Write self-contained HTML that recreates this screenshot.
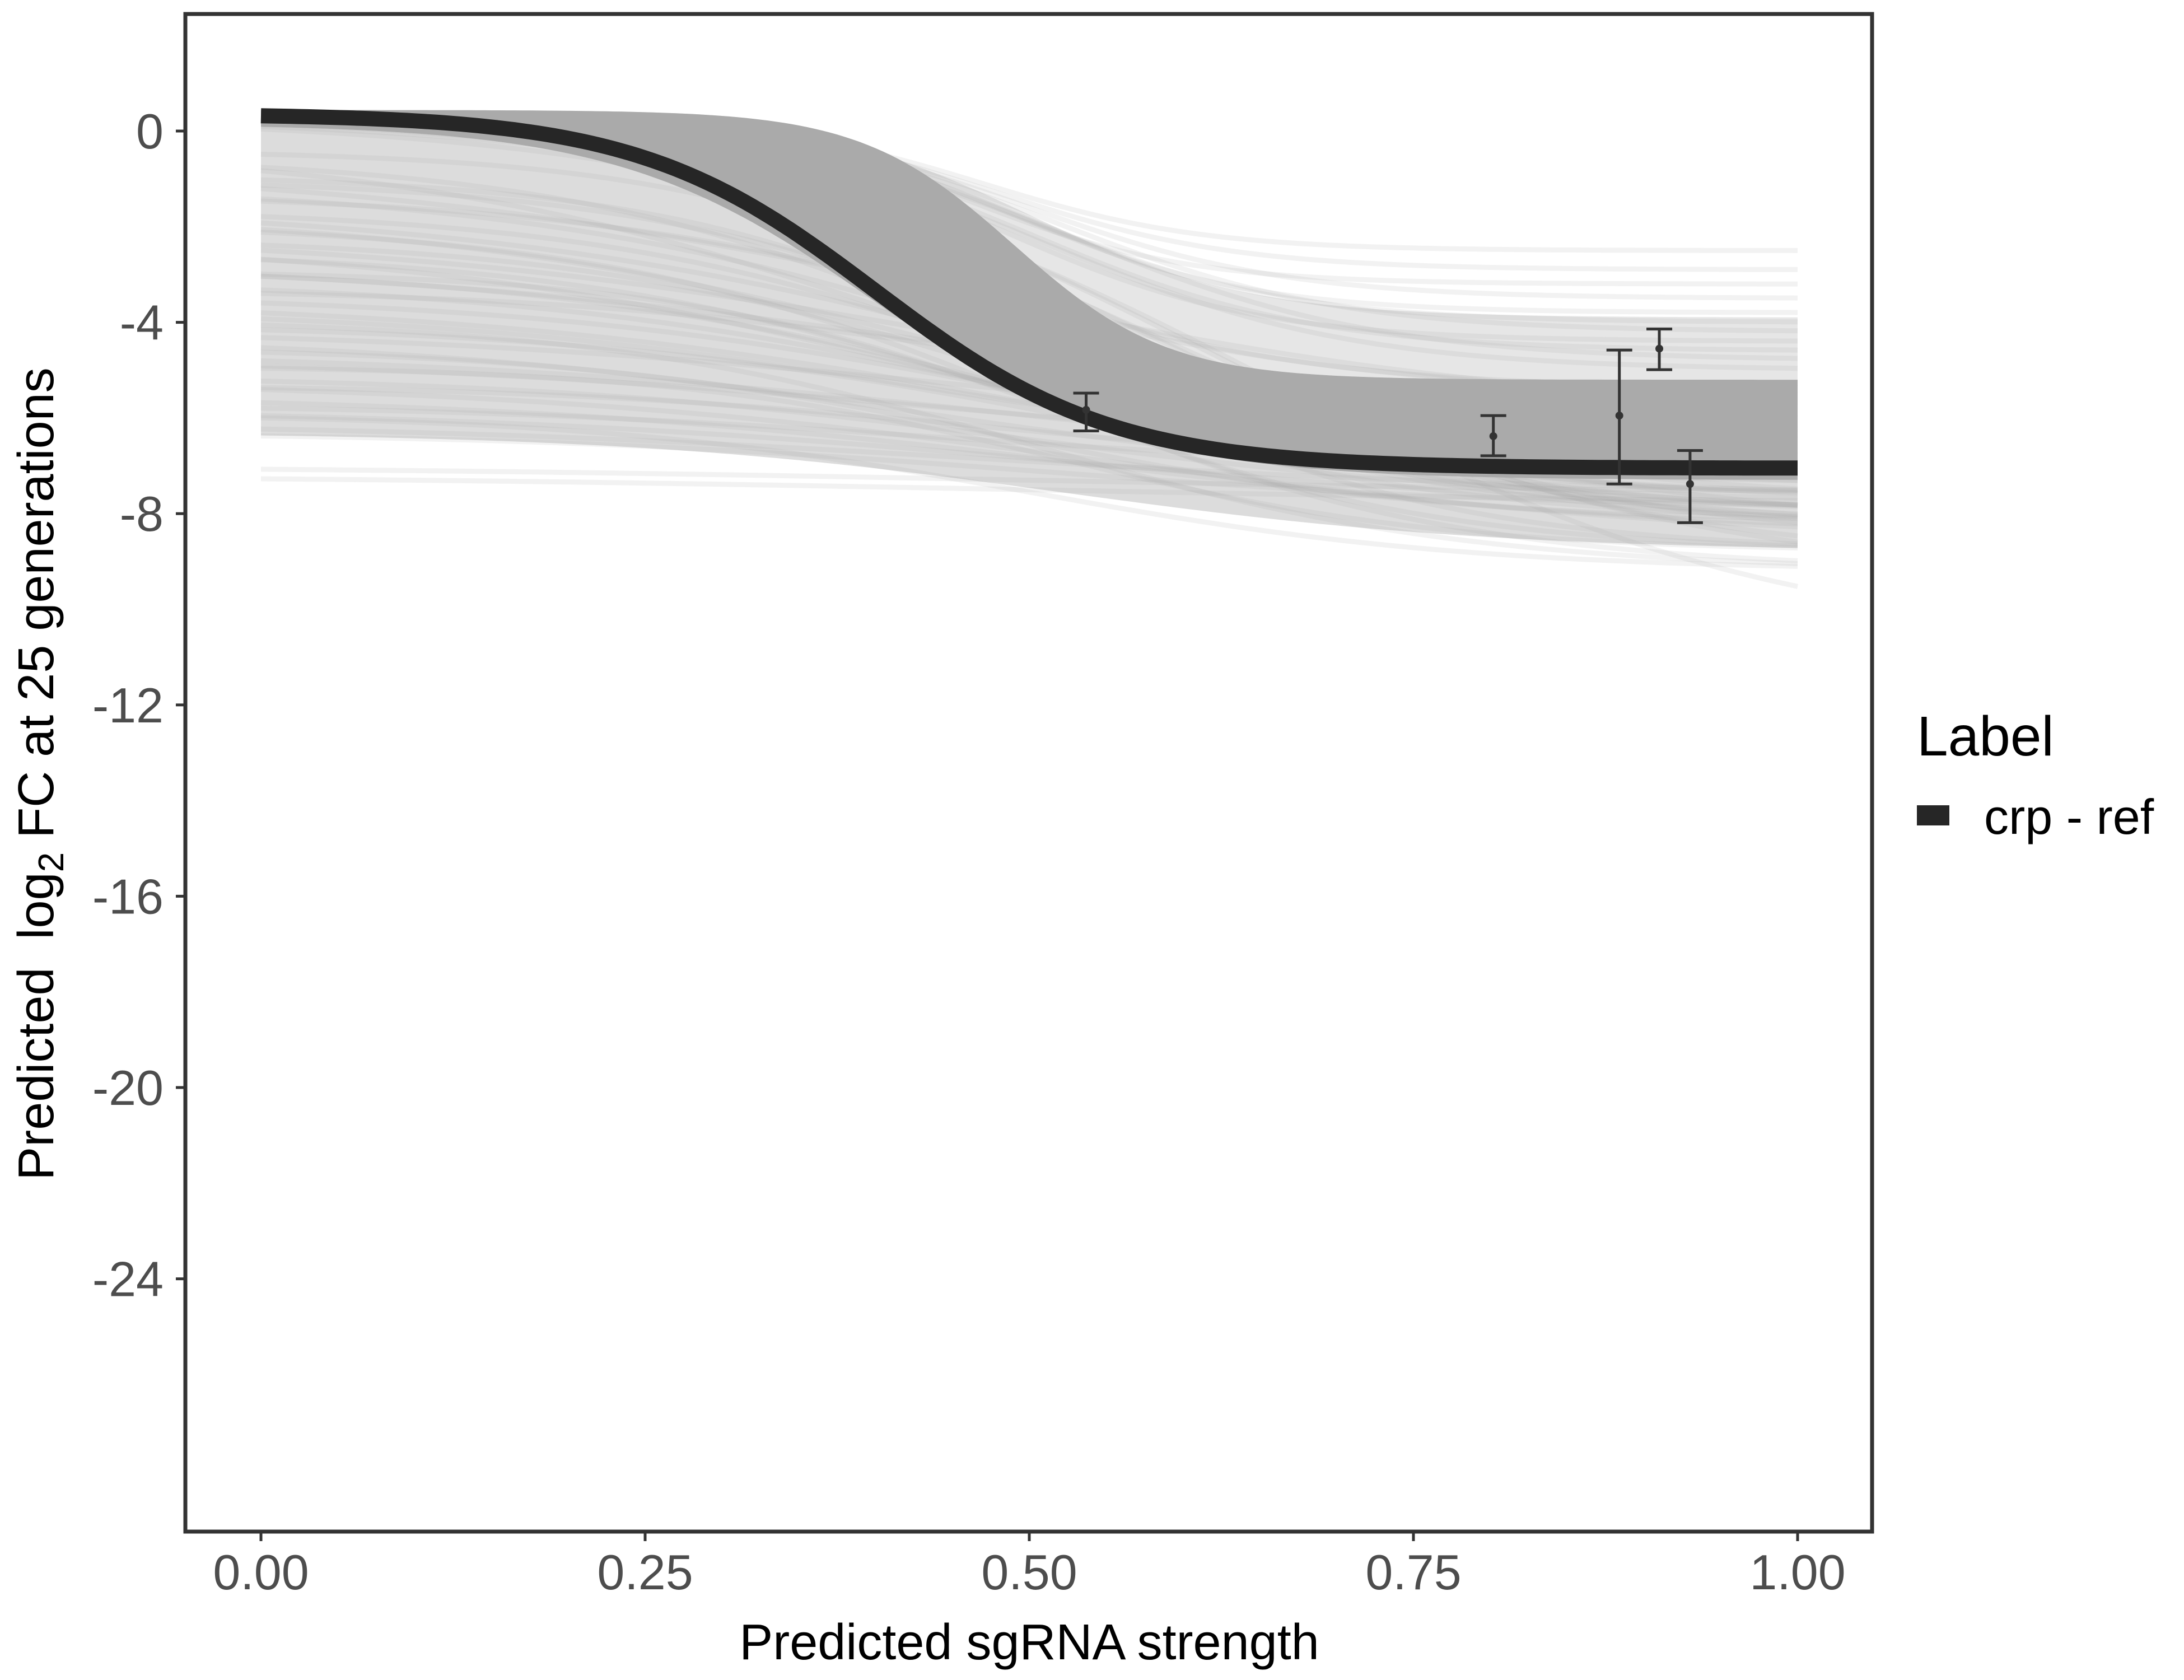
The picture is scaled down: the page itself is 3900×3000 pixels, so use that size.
<!DOCTYPE html>
<html><head><meta charset="utf-8">
<style>
html,body{margin:0;padding:0;background:#fff;}
svg{display:block;font-family:"Liberation Sans",Arial,sans-serif;}
</style></head>
<body>
<svg id="chart" width="3900" height="3000" viewBox="0 0 3900 3000" xmlns="http://www.w3.org/2000/svg">
  <rect x="0" y="0" width="3900" height="3000" fill="#fff"/>
  <g id="plot"></g>
  <rect x="331" y="25" width="3012" height="2710" fill="none" stroke="#333" stroke-width="7"/>
  <g id="axes"></g>
  <text x="1838" y="2963" font-size="90" text-anchor="middle" fill="#000">Predicted sgRNA strength</text>
  <text transform="translate(95,1382) rotate(-90)" font-size="90" text-anchor="middle" fill="#000" xml:space="preserve">Predicted  log<tspan font-size="64" dy="18">2</tspan><tspan dy="-18"> FC at 25 generations</tspan></text>
  <text x="3423" y="1349" font-size="100" fill="#000">Label</text>
  <rect x="3423" y="1438" width="58" height="36" fill="#262626"/>
  <text x="3543" y="1489" font-size="88" fill="#000">crp - ref</text>
</svg>
<script>
// axis ticks
const xTicks = [0, 0.25, 0.5, 0.75, 1];
const xTickLabels = ["0.00", "0.25", "0.50", "0.75", "1.00"];
const yTicks = [0, -4, -8, -12, -16, -20, -24];
const yTickLabels = ["0", "-4", "-8", "-12", "-16", "-20", "-24"];
// main fitted curve (crp - ref): sigmoid parameters
const mainTop = [0.36];
const mainBottom = [-7.05];
const mainMid = [0.40];
const mainSlope = [13];
// dense posterior band envelope (upper, lower)
const bandTop = [0.44, 0.15];
const bandBottom = [-5.2, -7.3];
const bandMid = [0.49, 0.40];
const bandSlope = [20, 12];
// lighter density regions: [upperEdge, lowerEdge]
const lowRegionTop = [0.15, -6.3];
const lowRegionBottom = [-7.3, -8.8];
const lowRegionMid = [0.40, 0.52];
const lowRegionSlope = [12, 7];
const fanTop = [0.4, 0.44];
const fanBottom = [-3.9, -5.2];
const fanMid = [0.5, 0.49];
const fanSlope = [14, 20];
// individual posterior draws (light lines)
const drawTop = [0.3,0.3,0.3,0.3,0.3,0.3,0.3,0.3,0.3,0.3,0.3,0.3,0.3,0.3,0.3,0.3,0.3,0.3,
  -0.3,-0.5,-0.7,-0.9,-1.1,-1.3,-1.5,-1.7,-1.9,-2.1,-2.3,-2.5,-2.7,-2.9,-3.1,-3.3,-3.5,-3.7,-3.9,-4.1,-4.3,-4.5,-4.7,-4.9,-5.1,-5.3,-5.5,-5.7,-5.9,-6.1,-6.3,
  -0.4,-1.0,-1.6,-2.2,-2.8,-3.4,-4.0,-4.6,-5.2,-5.8,-7.0,-7.2];
const drawBottom = [-2.5,-2.9,-3.2,-3.5,-3.8,-4.0,-4.2,-4.4,-4.6,-4.8,-5.0,-7.6,-8.0,-8.3,-8.6,-9.0,-9.4,-10.8,
  -7.4,-8.2,-6.0,-8.8,-7.8,-5.6,-8.5,-7.1,-9.2,-6.6,-7.4,-8.2,-6.2,-8.8,-7.8,-5.8,-8.5,-7.1,-9.2,-6.6,-7.4,-8.2,-6.9,-8.8,-7.8,-7.0,-8.5,-7.1,-9.2,-7.6,-7.9,
  -5.4,-6.3,-8.0,-7.7,-8.4,-7.5,-8.1,-7.3,-8.6,-8.0,-7.6,-7.8];
const drawMid = [0.47,0.48,0.46,0.5,0.49,0.5,0.52,0.48,0.5,0.53,0.51,0.5,0.52,0.55,0.57,0.6,0.6,0.66,
  0.42,0.48,0.45,0.52,0.5,0.46,0.55,0.44,0.5,0.47,0.42,0.48,0.45,0.52,0.5,0.46,0.55,0.44,0.5,0.47,0.42,0.48,0.45,0.52,0.5,0.46,0.55,0.44,0.5,0.47,0.5,
  0.45,0.46,0.5,0.48,0.52,0.5,0.54,0.5,0.55,0.52,0.5,0.5];
const drawSlope = [14,13,14,12,13,12,11,12,11,10,10,9,8,8,7,7,6,6,
  6,7,5,8,6,7,5,6,7,5,6,7,5,8,6,7,5,6,7,5,6,7,5,8,6,7,5,6,7,5,6,
  9,8,7,7,6,6,6,5,5,5,4,4];
// observed points with error bars
const ptX = [0.537, 0.802, 0.884, 0.910, 0.930];
const ptY = [-5.83, -6.38, -5.95, -4.55, -7.38];
const ptLo = [-6.27, -6.79, -7.38, -4.99, -8.19];
const ptHi = [-5.48, -5.95, -4.58, -4.14, -6.68];

const NS = "http://www.w3.org/2000/svg";
const X0 = 466, X1 = 3210, Y0 = 234, YPU = 85.4;
const sx = v => X0 + (X1 - X0) * v;
const sy = v => Y0 - v * YPU;
const sig = (t, b, m, k, x) => t + (b - t) / (1 + Math.exp(-k * (x - m)));
const plot = document.getElementById('plot');
const axes = document.getElementById('axes');
function mk(tag, attrs, parent) {
  const e = document.createElementNS(NS, tag);
  for (const k in attrs) e.setAttribute(k, attrs[k]);
  parent.appendChild(e);
  return e;
}
function curvePts(t, b, m, k) {
  const p = [];
  for (let i = 0; i <= 200; i++) { const x = i / 200; p.push(sx(x).toFixed(1) + ',' + sy(sig(t, b, m, k, x)).toFixed(1)); }
  return p;
}
function region(T, B, M, K, fill) {
  const up = curvePts(T[0], B[0], M[0], K[0]);
  const lo = curvePts(T[1], B[1], M[1], K[1]).reverse();
  return mk('polygon', {points: up.concat(lo).join(' '), fill: fill}, plot);
}
const r1 = region(lowRegionTop, lowRegionBottom, lowRegionMid, lowRegionSlope, '#dcdcdc');


const r2 = region(fanTop, fanBottom, fanMid, fanSlope, '#e6e6e6');


// draws
for (let i = 0; i < drawTop.length; i++) {
  const l = mk('polyline', {points: curvePts(drawTop[i], drawBottom[i], drawMid[i], drawSlope[i]).join(' '), fill: 'none', stroke: '#aaaaaa', 'stroke-opacity': 0.15, 'stroke-width': 9}, plot);
  
  
}
// band
const band = region(bandTop, bandBottom, bandMid, bandSlope, '#aaaaaa');


// main curve
const mainLine = mk('polyline', {points: curvePts(mainTop[0], mainBottom[0], mainMid[0], mainSlope[0]).join(' '), fill: 'none', stroke: '#262626', 'stroke-width': 27}, plot);


// error bars
for (let i = 0; i < ptX.length; i++) {
  const g = mk('g', {stroke: '#333', 'stroke-width': 5}, plot);
  
  
  const x = sx(ptX[i]);
  mk('line', {x1: x, x2: x, y1: sy(ptLo[i]), y2: sy(ptHi[i])}, g);
  mk('line', {x1: x - 23, x2: x + 23, y1: sy(ptLo[i]), y2: sy(ptLo[i])}, g);
  mk('line', {x1: x - 23, x2: x + 23, y1: sy(ptHi[i]), y2: sy(ptHi[i])}, g);
  const c = mk('circle', {cx: x, cy: sy(ptY[i]), r: 7, fill: '#333', stroke: 'none'}, plot);
  
  
}
// x ticks
for (let i = 0; i < xTicks.length; i++) {
  const x = sx(xTicks[i]);
  const t = mk('line', {x1: x, x2: x, y1: 2738, y2: 2752, stroke: '#333', 'stroke-width': 5}, axes);
  
  
  const lb = mk('text', {x: x, y: 2838, 'font-size': 88, 'text-anchor': 'middle', fill: '#4d4d4d'}, axes);
  lb.textContent = xTickLabels[i];
  
  
}
// y ticks
for (let i = 0; i < yTicks.length; i++) {
  const y = sy(yTicks[i]);
  const t = mk('line', {x1: 314, x2: 328, y1: y, y2: y, stroke: '#333', 'stroke-width': 5}, axes);
  
  
  const lb = mk('text', {x: 292, y: y + 31, 'font-size': 88, 'text-anchor': 'end', fill: '#4d4d4d'}, axes);
  lb.textContent = yTickLabels[i];
  
  
}
</script>
</body></html>
